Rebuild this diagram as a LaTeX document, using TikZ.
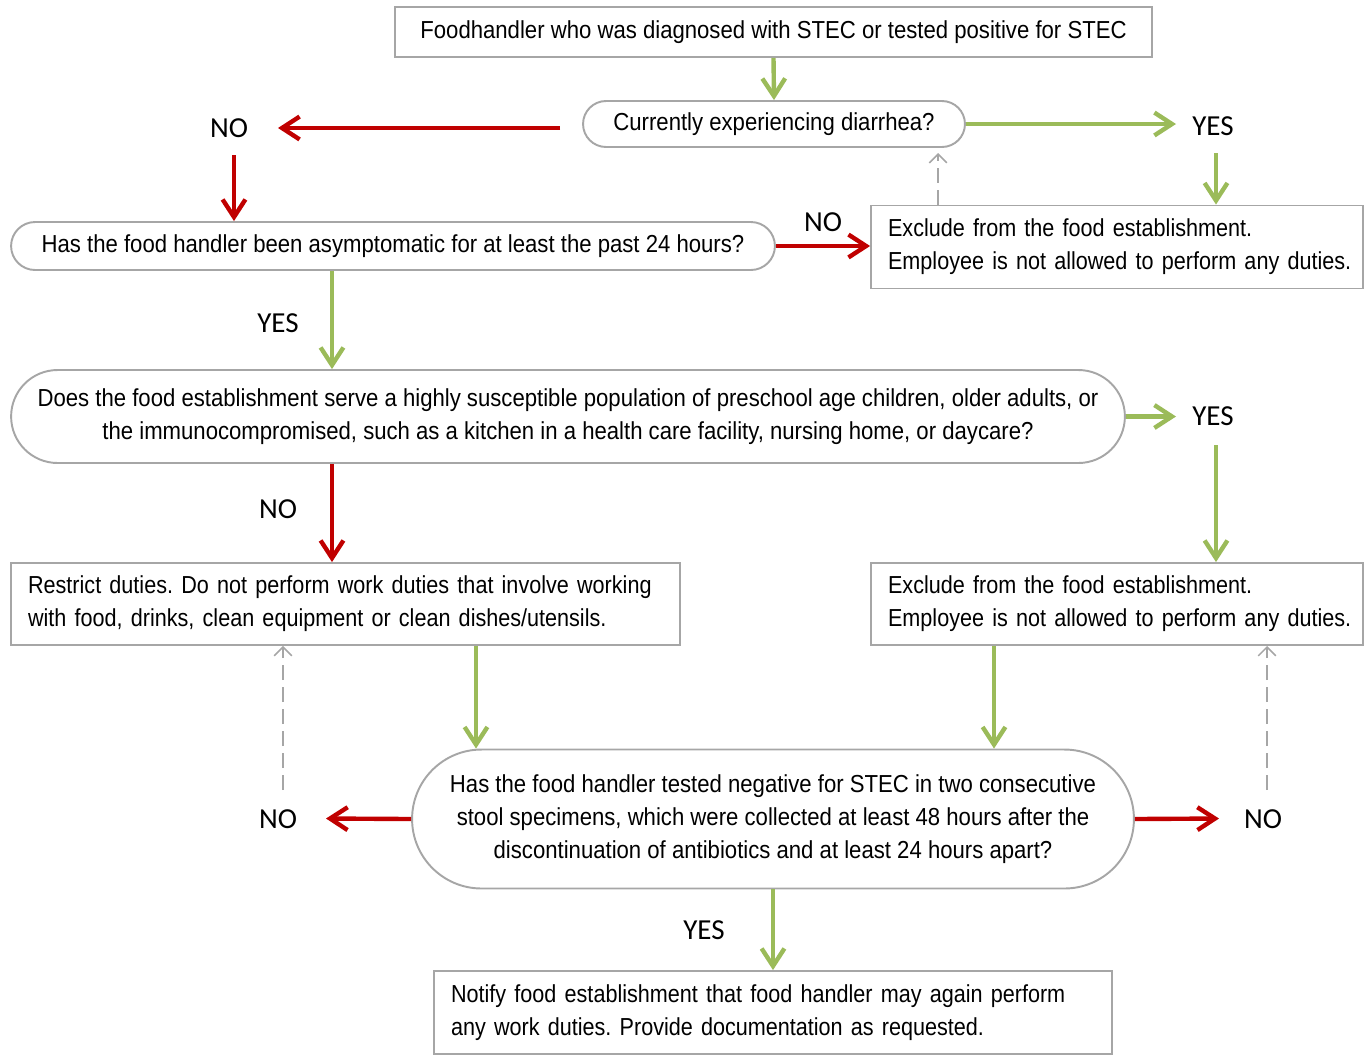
\documentclass[tikz,border=0pt]{standalone}
\usepackage{fontspec}
\setmainfont[FakeStretch=0.9]{Liberation Sans}
\newfontfamily\narrowl[FakeStretch=0.878]{Liberation Sans}
\newfontfamily\lab{Carlito}
\usetikzlibrary{arrows.meta}
\definecolor{gr}{HTML}{9BBB59}
\definecolor{rd}{HTML}{C00000}
\definecolor{bd}{HTML}{A6A6A6}
\newcommand\txt{\fontsize{14}{18.7}\selectfont\frenchspacing\hyphenpenalty=10000 }
\newcommand\txtl{\narrowl\txt}
\newcommand\ind{\hspace*{0.34cm}}
\tikzset{
  capsule/.style={draw=bd, line width=1.1pt, fill=white, align=center, font=\txt, inner sep=0pt},
  rectbox/.style={draw=bd, line width=1.1pt, fill=white, align=left, font=\txtl, inner sep=0pt},
  lbl/.style={font=\lab\fontsize{16.5}{19}\selectfont, inner sep=0pt},
  garrow/.style={draw=gr, line width=2.5pt, -{Straight Barb[length=10pt,width=13pt]}},
  rarrow/.style={draw=rd, line width=2.5pt, -{Straight Barb[length=10pt,width=13pt]}},
  darrow/.style={draw=bd, line width=0.9pt, dash pattern=on 8.5pt off 4pt, -{Straight Barb[length=5pt,width=10pt]}}
}
\begin{document}
\begin{tikzpicture}[x=0.02cm,y=-0.02cm]
\useasboundingbox (0,0) rectangle (1364,1059);
% nodes
\node[capsule, minimum width=15.14cm, minimum height=1cm] (top) at (773.5,32) {Foodhandler who was diagnosed with STEC or tested positive for STEC};
\node[capsule, minimum width=7.64cm, minimum height=0.92cm, rounded corners=0.46cm] (diar) at (774,124) {\raisebox{-1.2pt}{Currently experiencing diarrhea?}};
\node[capsule, minimum width=15.28cm, minimum height=0.96cm, rounded corners=0.48cm] (asym) at (393,246) {\raisebox{-1.2pt}{Has the food handler been asymptomatic for at least the past 24 hours?}};
\node[rectbox, text width=9.84cm, minimum height=1.66cm] (ex1) at (1117,247) {\ind Exclude from the food establishment.\\\ind Employee is not allowed to perform any duties.};
\node[capsule, minimum width=22.28cm, minimum height=1.86cm, rounded corners=0.93cm] (pop) at (568,416.5) {Does the food establishment serve a highly susceptible population of preschool age children, older adults, or\\the immunocompromised, such as a kitchen in a health care facility, nursing home, or daycare?};
\node[rectbox, text width=13.38cm, minimum height=1.64cm] (res) at (345.5,604) {\ind Restrict duties. Do not perform work duties that involve working\\\ind with food, drinks, clean equipment or clean dishes/utensils.};
\node[rectbox, text width=9.84cm, minimum height=1.64cm] (ex2) at (1117,604) {\ind Exclude from the food establishment.\\\ind Employee is not allowed to perform any duties.};
\node[capsule, minimum width=14.44cm, minimum height=2.78cm, rounded corners=1.39cm] (stool) at (773,819) {Has the food handler tested negative for STEC in two consecutive\\stool specimens, which were collected at least 48 hours after the\\discontinuation of antibiotics and at least 24 hours apart?};
\node[rectbox, text width=13.56cm, minimum height=1.66cm] (notify) at (773,1012.5) {\ind Notify food establishment that food handler may again perform\\\ind any work duties. Provide documentation as requested.};
% labels
\node[lbl] (no1) at (229,128) {NO};
\node[lbl] (yes1) at (1213,126) {YES};
\node[lbl] (no2) at (823,222) {NO};
\node[lbl] (yes2) at (278,323) {YES};
\node[lbl] (yes3) at (1213,416) {YES};
\node[lbl] (no3) at (278,509) {NO};
\node[lbl] (no4) at (278,819) {NO};
\node[lbl] (no5) at (1263,819) {NO};
\node[lbl] (yes4) at (704,930) {YES};
% coordinates
\coordinate (a1) at (560,128);
\coordinate (a2) at (278,128);
\coordinate (b1) at (234,155);
\coordinate (c1) at (1176,124);
\coordinate (d1) at (1216,153);
\coordinate (e1) at (938,153);
\coordinate (x332) at (332,0);
\coordinate (x476) at (476,0);
\coordinate (x994) at (994,0);
\coordinate (f1) at (1176,416.5);
\coordinate (g1) at (1216,445);
\coordinate (h1) at (326,818.5);
\coordinate (h2) at (1219,818.5);
\coordinate (i1) at (283,790);
\coordinate (i2) at (1267,790);
% connectors
\draw[garrow] (top.south) -- (diar.north);
\draw[rarrow] (a1) -- (a2);
\draw[rarrow] (b1) -- (b1 |- asym.north);
\draw[rarrow] (asym.east) -- (asym.east -| ex1.west);
\draw[garrow] (diar.east) -- (c1);
\draw[garrow] (d1) -- (d1 |- ex1.north);
\draw[darrow] (e1 |- ex1.north) -- (e1);
\draw[garrow] (asym.south -| x332) -- (pop.north -| x332);
\draw[garrow] (pop.east) -- (f1);
\draw[garrow] (g1) -- (g1 |- ex2.north);
\draw[rarrow] (pop.south -| x332) -- (res.north -| x332);
\draw[garrow] (res.south -| x476) -- (x476 |- stool.north);
\draw[garrow] (ex2.south -| x994) -- (x994 |- stool.north);
\draw[rarrow] (stool.west) -- (h1);
\draw[darrow] (i1) -- (i1 |- res.south);
\draw[rarrow] (stool.east) -- (h2);
\draw[darrow] (i2) -- (i2 |- ex2.south);
\draw[garrow] (stool.south) -- (notify.north);
\end{tikzpicture}
\end{document}
